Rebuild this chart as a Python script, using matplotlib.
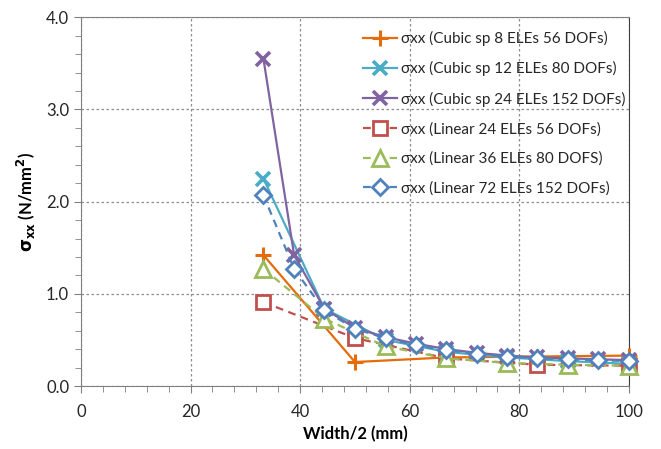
import matplotlib
matplotlib.use('Agg')
import matplotlib.pyplot as plt
from matplotlib.ticker import MultipleLocator, FormatStrFormatter

plt.rcParams['font.family'] = ['Lato', 'DejaVu Sans']
plt.rcParams['mathtext.fontset'] = 'dejavusans'

# half-width positions (mm) for each mesh
x_cubic8 = [33.3, 50.0, 66.7, 83.3, 100.0]
x_cubic12 = [33.3, 44.4, 55.6, 66.7, 77.8, 88.9, 100.0]
x_cubic24 = [33.3, 38.9, 44.4, 50.0, 55.6, 61.1, 66.7, 72.2, 77.8, 83.3, 88.9, 94.4, 100.0]
x_lin24 = [33.3, 50.0, 66.7, 83.3, 100.0]
x_lin36 = [33.3, 44.4, 55.6, 66.7, 77.8, 88.9, 100.0]
x_lin72 = [33.3, 38.9, 44.4, 50.0, 55.6, 61.1, 66.7, 72.2, 77.8, 83.3, 88.9, 94.4, 100.0]

# sigma_xx (N/mm^2)
s_cubic8 = [1.42, 0.26, 0.31, 0.32, 0.33]
s_cubic12 = [2.25, 0.84, 0.50, 0.37, 0.31, 0.27, 0.24]
s_cubic24 = [3.55, 1.42, 0.84, 0.63, 0.53, 0.46, 0.40, 0.36, 0.33, 0.31, 0.30, 0.29, 0.28]
s_lin24 = [0.91, 0.52, 0.30, 0.23, 0.22]
s_lin36 = [1.27, 0.73, 0.43, 0.30, 0.25, 0.23, 0.22]
s_lin72 = [2.07, 1.27, 0.82, 0.62, 0.52, 0.44, 0.39, 0.35, 0.32, 0.30, 0.29, 0.28, 0.27]

labels = ['σxx (Cubic sp 8 ELEs 56 DOFs)',
          'σxx (Cubic sp 12 ELEs 80 DOFs)',
          'σxx (Cubic sp 24 ELEs 152 DOFs)',
          'σxx (Linear 24 ELEs 56 DOFs)',
          'σxx (Linear 36 ELEs 80 DOFS)',
          'σxx (Linear 72 ELEs 152 DOFs)']

fig = plt.figure(figsize=(6.61, 4.49), dpi=100)
ax = fig.add_axes([0.1225, 0.1403, 0.829, 0.8212])

dash = (0, (3.5, 2.5))
common = dict(lw=1.6, clip_on=False, zorder=3)
ax.plot(x_cubic8, s_cubic8, color='#E46C0A', marker='+', ms=11, mew=2.2, label=labels[0], **common)
ax.plot(x_cubic12, s_cubic12, color='#4BACC6', marker='x', ms=10, mew=2.6, label=labels[1], **common)
ax.plot(x_cubic24, s_cubic24, color='#8064A2', marker='x', ms=10, mew=2.6, label=labels[2], **common)
ax.plot(x_lin24, s_lin24, color='#C0504D', ls=dash, marker='s', ms=10, mew=2,
        mfc='white', label=labels[3], **common)
ax.plot(x_lin36, s_lin36, color='#9BBB59', ls=dash, marker='^', ms=11, mew=2,
        mfc='white', label=labels[4], **common)
ax.plot(x_lin72, s_lin72, color='#4F81BD', ls=dash, marker='D', ms=8, mew=2,
        mfc='white', label=labels[5], **common)

ax.set_xlim(0, 100)
ax.set_ylim(0, 4)
ax.xaxis.set_major_locator(MultipleLocator(20))
ax.xaxis.set_minor_locator(MultipleLocator(4))
ax.yaxis.set_major_locator(MultipleLocator(1))
ax.yaxis.set_minor_locator(MultipleLocator(0.2))
ax.yaxis.set_major_formatter(FormatStrFormatter('%.1f'))
ax.grid(True, which='major', ls=(0, (2, 2)), color='#8c8c8c', lw=0.9)
ax.set_axisbelow(True)

ax.tick_params(which='both', direction='out', colors='#808080', labelcolor='#262626',
               labelsize=12)
ax.tick_params(which='major', length=5)
ax.tick_params(which='minor', length=4)
ax.tick_params(axis='x', pad=8)
for side in ['left', 'bottom', 'top']:
    ax.spines[side].set_color('#808080')
ax.spines['right'].set_color('#404040')

ax.set_xlabel('Width/2 (mm)', fontsize=12, fontweight='bold', labelpad=4)
ax.set_ylabel(r'$\mathbf{\sigma_{xx}}$ (N/mm$^{\mathbf{2}}$)', fontsize=12, fontweight='bold',
              labelpad=6)

ax.legend(loc='upper left', bbox_to_anchor=(0.49, 1.0), frameon=False, fontsize=11,
          handlelength=2.2, handletextpad=0.3, labelspacing=1.0, borderaxespad=0.5,
          labelcolor='#262626')

fig.savefig('out.png', dpi=100)
